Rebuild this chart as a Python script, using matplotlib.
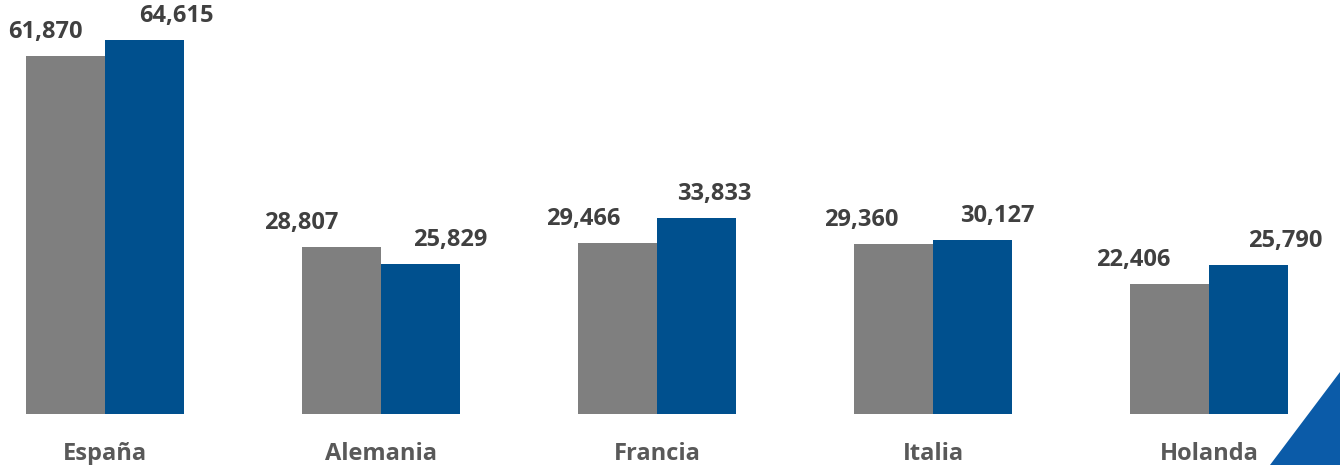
import matplotlib
matplotlib.use("Agg")
import matplotlib.pyplot as plt
from matplotlib.patches import Polygon
import numpy as np

categories = ["España", "Alemania", "Francia", "Italia", "Holanda"]
serie_gris = [61870, 28807, 29466, 29360, 22406]
serie_azul = [64615, 25829, 33833, 30127, 25790]

# label horizontal offsets in pixels (style)
off_gris = [-20, -40, -34, -32, -36]
off_azul = [32, 29, 18, 25, 36]

GRAY = "#7F7F7F"
BLUE = "#00508E"
TRI = "#0B5BA8"
VAL_C = "#404040"
CAT_C = "#595959"

plt.rcParams['font.family'] = ['Open Sans', 'DejaVu Sans']

W, H = 1340, 465
fig = plt.figure(figsize=(W / 100, H / 100), dpi=100)
ax = fig.add_axes([0, 1 - 414 / H, 1, 414 / H])

x = np.arange(len(categories))
bw = 0.288
ax.bar(x - bw / 2, serie_gris, width=bw, color=GRAY, linewidth=0)
ax.bar(x + bw / 2, serie_azul, width=bw, color=BLUE, linewidth=0)

span = W / 276.0
xmin = -105 / 276.0
ax.set_xlim(xmin, xmin + span)
ax.set_ylim(0, 64615 * 414 / 374)

px2pt = 72 / 100
for i in range(len(categories)):
    ax.annotate(f"{serie_gris[i]:,}", (x[i] - bw / 2, serie_gris[i]),
                xytext=(off_gris[i] * px2pt, 18 * px2pt), textcoords="offset points",
                ha="center", va="baseline", fontsize=17, fontweight="bold", color=VAL_C)
    ax.annotate(f"{serie_azul[i]:,}", (x[i] + bw / 2, serie_azul[i]),
                xytext=(off_azul[i] * px2pt, 18 * px2pt), textcoords="offset points",
                ha="center", va="baseline", fontsize=17, fontweight="bold", color=VAL_C)
    ax.annotate(categories[i], (x[i], 0), xytext=(0, -46 * px2pt), textcoords="offset points",
                ha="center", va="baseline", fontsize=17, fontweight="bold", color=CAT_C,
                annotation_clip=False)

ax.axis("off")

tri = Polygon([(1270 / W, 0), (1.0, 0), (1.0, 1 - 372 / H)], closed=True,
              transform=fig.transFigure, facecolor=TRI, edgecolor="none")
fig.patches.append(tri)

fig.savefig("out.png", dpi=100)
